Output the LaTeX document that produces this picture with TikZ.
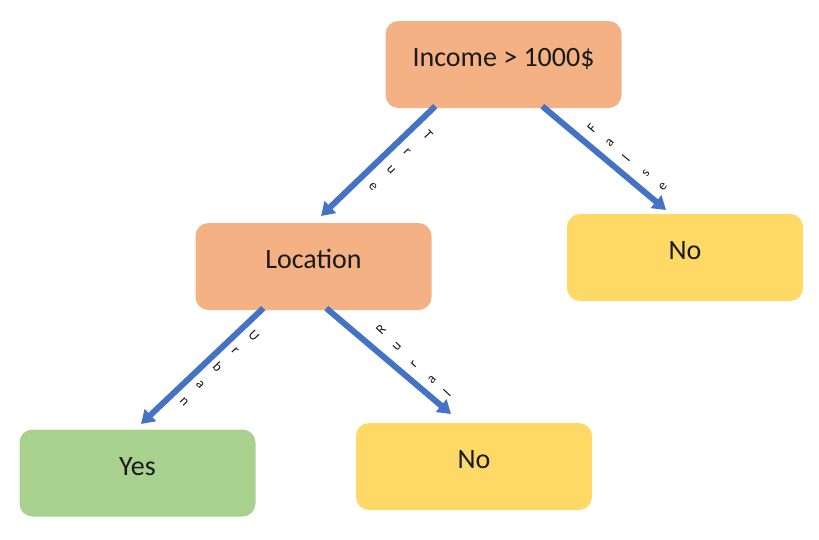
\documentclass[tikz,border=0pt]{standalone}
\usepackage{fontspec}
\setmainfont{Carlito}
\usetikzlibrary{arrows.meta,calc}
\definecolor{peach}{HTML}{F4B183}
\definecolor{leaf}{HTML}{A9D18E}
\definecolor{gold}{HTML}{FFD966}
\definecolor{arrowblue}{HTML}{4472C4}
\definecolor{ink}{HTML}{1A1A1A}
\tikzset{
  box/.style={rectangle, rounded corners=13pt, minimum width=236pt, minimum height=87pt,
    inner sep=0pt, text=ink, font=\fontsize{28}{30}\selectfont,
    text height=18pt, text depth=13.2pt},
  peachbox/.style={box, fill=peach},
  leafbox/.style={box, fill=leaf},
  goldbox/.style={box, fill=gold},
  arr/.style={draw=arrowblue, line width=6pt, -{Triangle[length=13pt,width=16pt]}},
  lbl/.style={inner sep=0pt, text=ink, font=\fontsize{14}{15}\selectfont}
}
\begin{document}
\begin{tikzpicture}[x=1pt,y=-1pt]
\useasboundingbox (0,0) rectangle (819,539);
\node[peachbox] (inc) at (503.5,64.5) {Income > 1000\$};
\node[peachbox] (loc) at (313.5,266.5) {Location};
\node[goldbox] (no1) at (685,257.5) {No};
\node[leafbox] (yes) at (137.5,473) {Yes};
\node[goldbox] (no2) at (474,466.5) {No};

\coordinate (tT) at (321,216);
\coordinate (tF) at (666,210);
\coordinate (tU) at (141,424);
\coordinate (tR) at (451,414);

\draw[arr] ($(inc.south west)+(50,-2)$) -- (tT);
\draw[arr] ($(inc.south west)+(157,-2)$) -- (tF);
\draw[arr] ($(loc.south west)+(68,-2)$) -- (tU);
\draw[arr] ($(loc.south west)+(131,-2)$) -- (tR);

\foreach \ch/\x/\y [count=\i] in {T/428/135, r/407/152, u/391/170, e/373/187}
  \node[lbl, rotate=-46.6] (lt\i) at (\x,\y) {\ch};
\foreach \ch/\x/\y [count=\i] in {F/592/128, a/610/143, l/626/158, s/646/173, e/663/187}
  \node[lbl, rotate=50.3] (lf\i) at (\x,\y) {\ch};
\foreach \ch/\x/\y [count=\i] in {U/254/336, r/235/351, b/218/367, a/200/385, n/184/402}
  \node[lbl, rotate=-46.7] (lu\i) at (\x,\y) {\ch};
\foreach \ch/\x/\y [count=\i] in {R/381/330, u/397/347, r/414/364, a/432/380, l/447/393}
  \node[lbl, rotate=46.8] (lr\i) at (\x,\y) {\ch};
\end{tikzpicture}
\end{document}
